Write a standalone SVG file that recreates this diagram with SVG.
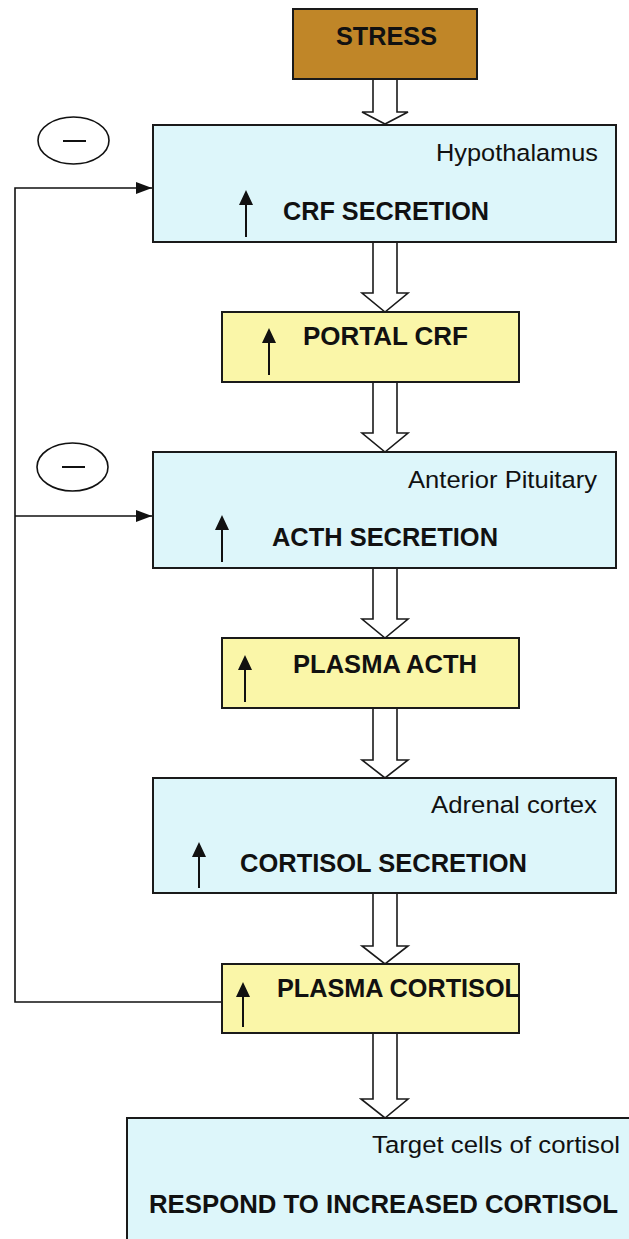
<svg xmlns="http://www.w3.org/2000/svg" width="629" height="1239" viewBox="0 0 629 1239">
<defs>
<style>
.box{stroke:#1a1a1a;stroke-width:2}
.blue{fill:#DDF6FA}
.yellow{fill:#FAF6A8}
.stress{fill:#C08628}
.b{font-family:"Liberation Sans",Arial,sans-serif;font-weight:bold;font-size:25px;fill:#111}
.r{font-family:"Liberation Sans",Arial,sans-serif;font-size:24.5px;fill:#111}
.blk{fill:#fff;stroke:#1a1a1a;stroke-width:1.6;stroke-linejoin:miter}
.up{stroke:#111;stroke-width:2;fill:none}
.fb{stroke:#111;stroke-width:1.6;fill:none}
</style>
<marker id="fbHead" markerWidth="16" markerHeight="12" viewBox="0 0 16 12" refX="16" refY="6" orient="auto" markerUnits="userSpaceOnUse">
<path d="M0,0 L16,6 L0,12 Z" fill="#111"/>
</marker>
</defs>
<rect width="629" height="1239" fill="#fff"/>

<g id="connectors">
<path class="blk" d="M373,79 V112 H362 L385,124 L408,112 H397 V79 Z"/>
<path class="blk" d="M373,242 V293 H362 L385,312 L408,293 H397 V242 Z"/>
<path class="blk" d="M373,382 V433 H362 L385,452 L408,433 H397 V382 Z"/>
<path class="blk" d="M373,568 V619 H362 L385,638 L408,619 H397 V568 Z"/>
<path class="blk" d="M373,708 V760 H362 L385,778 L408,760 H397 V708 Z"/>
<path class="blk" d="M373,893 V946 H362 L385,964 L408,946 H397 V893 Z"/>
<path class="blk" d="M373,1033 V1099 H361 L385,1118 L408,1099 H397 V1033 Z"/>
<path class="fb" d="M221,1002 H15 V188 H152" marker-end="url(#fbHead)"/>
<path class="fb" d="M15,516 H152" marker-end="url(#fbHead)"/>
</g>

<g id="inhibit1">
<ellipse cx="73.5" cy="140.5" rx="35.5" ry="23.5" fill="#fff" stroke="#111" stroke-width="1.6"/>
<line x1="63" y1="141" x2="86" y2="141" stroke="#111" stroke-width="2"/>
</g>
<g id="inhibit2">
<ellipse cx="72.5" cy="467" rx="35.5" ry="24" fill="#fff" stroke="#111" stroke-width="1.6"/>
<line x1="62" y1="467" x2="85" y2="467" stroke="#111" stroke-width="2"/>
</g>

<g id="stress">
<rect class="box stress" x="293" y="9" width="184" height="70"/>
<text class="b" x="336" y="45" textLength="101" lengthAdjust="spacingAndGlyphs">STRESS</text>
</g>

<g id="hypothalamus">
<rect class="box blue" x="153" y="125" width="463" height="117"/>
<text class="r" x="436" y="161" textLength="162" lengthAdjust="spacingAndGlyphs">Hypothalamus</text>
<line class="up" x1="246" y1="237" x2="246" y2="204"/>
<path d="M239,205 L246,190 L253,205 Z" fill="#111"/>
<text class="b" x="283" y="220" textLength="206" lengthAdjust="spacingAndGlyphs">CRF SECRETION</text>
</g>

<g id="portal-crf">
<rect class="box yellow" x="222" y="312" width="297" height="70"/>
<line class="up" x1="269" y1="375" x2="269" y2="342"/>
<path d="M262,343 L269,328 L276,343 Z" fill="#111"/>
<text class="b" x="303" y="345" textLength="165" lengthAdjust="spacingAndGlyphs">PORTAL CRF</text>
</g>

<g id="anterior-pituitary">
<rect class="box blue" x="153" y="452" width="463" height="116"/>
<text class="r" x="408" y="488" textLength="189" lengthAdjust="spacingAndGlyphs">Anterior Pituitary</text>
<line class="up" x1="222" y1="562" x2="222" y2="529"/>
<path d="M215,530 L222,515 L229,530 Z" fill="#111"/>
<text class="b" x="272" y="546" textLength="226" lengthAdjust="spacingAndGlyphs">ACTH SECRETION</text>
</g>

<g id="plasma-acth">
<rect class="box yellow" x="222" y="638" width="297" height="70"/>
<line class="up" x1="245" y1="702" x2="245" y2="669"/>
<path d="M238,670 L245,655 L252,670 Z" fill="#111"/>
<text class="b" x="293" y="673" textLength="184" lengthAdjust="spacingAndGlyphs">PLASMA ACTH</text>
</g>

<g id="adrenal-cortex">
<rect class="box blue" x="153" y="778" width="463" height="115"/>
<text class="r" x="431" y="813" textLength="166" lengthAdjust="spacingAndGlyphs">Adrenal cortex</text>
<line class="up" x1="199" y1="888" x2="199" y2="856"/>
<path d="M192,857 L199,842 L206,857 Z" fill="#111"/>
<text class="b" x="240" y="872" textLength="287" lengthAdjust="spacingAndGlyphs">CORTISOL SECRETION</text>
</g>

<g id="plasma-cortisol">
<rect class="box yellow" x="222" y="964" width="297" height="69"/>
<line class="up" x1="243" y1="1027" x2="243" y2="996"/>
<path d="M236,997 L243,982 L250,997 Z" fill="#111"/>
<text class="b" x="277" y="997" textLength="243" lengthAdjust="spacingAndGlyphs">PLASMA CORTISOL</text>
</g>

<g id="target-cells">
<rect class="box blue" x="127" y="1118" width="520" height="140"/>
<text class="r" x="372" y="1153" textLength="248" lengthAdjust="spacingAndGlyphs">Target cells of cortisol</text>
<text class="b" x="149" y="1213" textLength="469" lengthAdjust="spacingAndGlyphs">RESPOND TO INCREASED CORTISOL</text>
</g>
</svg>
